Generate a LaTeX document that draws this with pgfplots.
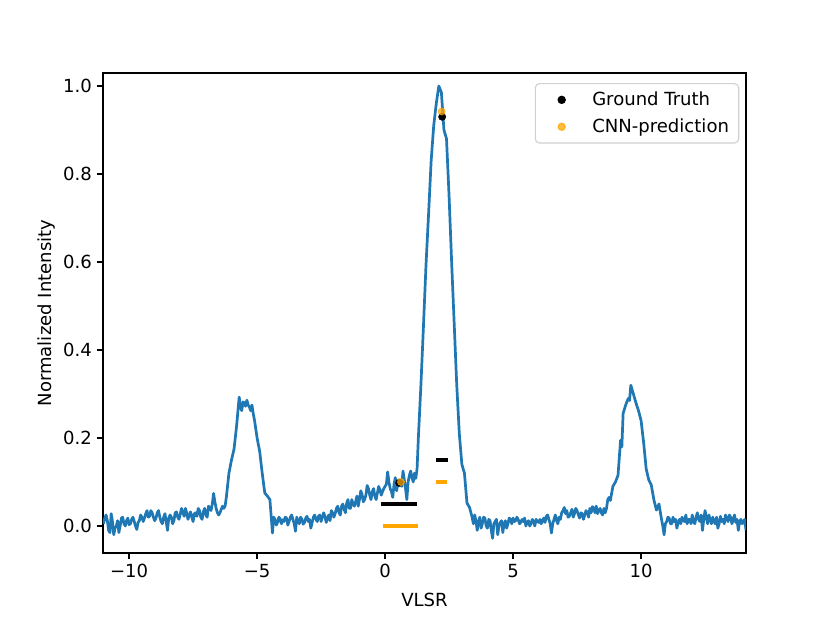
\documentclass[border=0pt]{standalone}
\usepackage{fontspec}
\setmainfont{DejaVu Sans}
\usepackage{pgfplots}
\pgfplotsset{compat=1.18}
\definecolor{tabblue}{HTML}{1F77B4}
\definecolor{orng}{HTML}{FFA500}
\begin{document}
\begin{tikzpicture}
\path[use as bounding box] (-74.16pt,-50.4pt) rectangle (523.44pt,398.16pt);
\begin{axis}[
  at={(0pt,0pt)}, anchor=south west,
  scale only axis, width=462.96pt, height=345.6pt,
  xmin=-11.02, xmax=14.1, ymin=-0.0614, ymax=1.0295,
  xtick={-10,-5,0,5,10}, xticklabels={−10,−5,0,5,10},
  ytick={0,0.2,0.4,0.6,0.8,1.0}, yticklabels={0.0,0.2,0.4,0.6,0.8,1.0},
  tick align=outside, major tick length=4.5pt,
  xtick pos=left, ytick pos=left,
  tick style={black, line width=0.9pt},
  axis line style={line width=0.9pt},
  tick label style={font=\fontsize{13}{15.6}\selectfont},
  label style={font=\fontsize{13}{15.6}\selectfont},
  xlabel={VLSR}, ylabel={Normalized Intensity},
  xlabel style={yshift=-4.5pt},
  ylabel style={yshift=-1pt},
  legend style={at={(0.9895,0.979)}, anchor=north east, draw=black!18, line width=0.8pt, rounded corners=3pt,
    fill=white, font=\fontsize{13}{15.6}\selectfont, row sep=4pt, inner xsep=5pt, inner ysep=4pt,
    /tikz/every odd column/.append style={column sep=4pt}},
  legend image code/.code={\path[draw=none] (0pt,0pt) -- (30pt,0pt); \draw[#1] plot coordinates {(14pt,0pt)};},
  legend cell align=left,
]
\addplot[tabblue, line width=1.95pt, line join=round, forget plot] coordinates {
(-11.0,0.005) (-10.95,0.018) (-10.9,0.025) (-10.85,0.012) (-10.8,-0.010) (-10.75,-0.015)
(-10.7,0.028) (-10.65,0.010) (-10.6,-0.020) (-10.55,-0.005) (-10.5,0.000) (-10.45,0.012)
(-10.4,-0.015) (-10.35,0.000) (-10.3,0.018) (-10.25,0.020) (-10.2,0.005) (-10.15,0.000)
(-10.1,0.012) (-10.05,0.018) (-10.0,0.003) (-9.95,0.005) (-9.9,0.015) (-9.85,0.020)
(-9.8,0.010) (-9.75,0.000) (-9.7,-0.008) (-9.65,0.008) (-9.6,0.012) (-9.55,0.025)
(-9.5,0.020) (-9.45,0.010) (-9.4,0.018) (-9.35,0.028) (-9.3,0.035) (-9.25,0.020)
(-9.2,0.022) (-9.15,0.035) (-9.1,0.030) (-9.05,0.020) (-9.0,0.012) (-8.95,0.018)
(-8.9,0.030) (-8.85,0.035) (-8.8,0.020) (-8.75,0.010) (-8.7,0.005) (-8.65,0.020)
(-8.6,0.028) (-8.55,0.010) (-8.5,-0.010) (-8.45,0.018) (-8.4,0.025) (-8.35,0.020)
(-8.3,0.005) (-8.25,0.012) (-8.2,0.030) (-8.15,0.032) (-8.1,0.020) (-8.05,0.015)
(-8.0,0.028) (-7.95,0.040) (-7.9,0.030) (-7.85,0.022) (-7.8,0.040) (-7.75,0.030)
(-7.7,0.015) (-7.65,0.025) (-7.6,0.032) (-7.55,0.020) (-7.5,0.010) (-7.45,0.028)
(-7.4,0.030) (-7.35,0.022) (-7.3,0.040) (-7.25,0.035) (-7.2,0.020) (-7.15,0.015)
(-7.1,0.032) (-7.05,0.040) (-7.0,0.025) (-6.95,0.020) (-6.9,0.045) (-6.85,0.042)
(-6.8,0.035) (-6.75,0.050) (-6.7,0.074) (-6.65,0.055) (-6.6,0.040) (-6.55,0.030)
(-6.5,0.025) (-6.45,0.030) (-6.4,0.038) (-6.35,0.045) (-6.3,0.040) (-6.25,0.045)
(-6.2,0.066) (-6.1,0.120) (-6.0,0.150) (-5.9,0.175) (-5.8,0.228) (-5.7,0.293)
(-5.65,0.270) (-5.6,0.262) (-5.55,0.282) (-5.5,0.280) (-5.45,0.272) (-5.4,0.286)
(-5.35,0.275) (-5.3,0.270) (-5.25,0.262) (-5.2,0.275) (-5.15,0.255) (-5.1,0.240)
(-5.0,0.200) (-4.9,0.170) (-4.8,0.120) (-4.7,0.075) (-4.6,0.068) (-4.5,0.060)
(-4.4,-0.016) (-4.35,0.020) (-4.3,0.015) (-4.25,0.002) (-4.2,0.008) (-4.15,0.020)
(-4.1,0.016) (-4.05,0.005) (-4.0,0.014) (-3.95,0.010) (-3.9,0.020) (-3.85,0.018)
(-3.8,0.002) (-3.75,0.010) (-3.7,0.020) (-3.65,0.025) (-3.6,0.015) (-3.55,0.005)
(-3.5,-0.012) (-3.45,0.020) (-3.4,0.010) (-3.35,0.005) (-3.3,0.020) (-3.25,0.015)
(-3.2,0.004) (-3.15,0.008) (-3.1,0.018) (-3.05,0.022) (-3.0,0.010) (-2.95,0.015)
(-2.9,-0.005) (-2.85,0.008) (-2.8,0.020) (-2.75,0.025) (-2.7,0.015) (-2.65,0.010)
(-2.6,0.022) (-2.55,0.025) (-2.5,0.010) (-2.45,0.020) (-2.4,0.030) (-2.35,0.022)
(-2.3,0.008) (-2.25,0.018) (-2.2,0.025) (-2.15,0.012) (-2.1,0.035) (-2.05,0.030)
(-2.0,0.020) (-1.95,0.028) (-1.9,0.040) (-1.85,0.045) (-1.8,0.030) (-1.75,0.025)
(-1.7,0.045) (-1.65,0.050) (-1.6,0.038) (-1.55,0.030) (-1.5,0.052) (-1.45,0.060)
(-1.4,0.040) (-1.35,0.040) (-1.3,0.060) (-1.25,0.050) (-1.2,0.045) (-1.15,0.055)
(-1.1,0.068) (-1.05,0.045) (-1.0,0.060) (-0.95,0.080) (-0.9,0.072) (-0.85,0.055)
(-0.8,0.060) (-0.75,0.070) (-0.7,0.092) (-0.65,0.085) (-0.6,0.070) (-0.55,0.060)
(-0.5,0.078) (-0.45,0.085) (-0.4,0.068) (-0.35,0.060) (-0.3,0.075) (-0.25,0.090)
(-0.2,0.082) (-0.15,0.070) (-0.1,0.078) (-0.05,0.085) (0.0,0.090) (0.05,0.095)
(0.1,0.123) (0.15,0.100) (0.2,0.085) (0.25,0.078) (0.3,0.065) (0.35,0.095)
(0.4,0.110) (0.45,0.080) (0.5,0.095) (0.55,0.105) (0.6,0.098) (0.65,0.090)
(0.7,0.125) (0.75,0.105) (0.8,0.085) (0.85,0.060) (0.9,0.100) (0.95,0.115)
(1.0,0.125) (1.05,0.110) (1.1,0.100) (1.15,0.120) (1.2,0.108) (1.25,0.130)
(1.3,0.200) (1.4,0.320) (1.5,0.455) (1.6,0.595) (1.7,0.710) (1.8,0.830)
(1.9,0.910) (2.0,0.960) (2.1,1.000) (2.2,0.985) (2.3,0.900) (2.4,0.880)
(2.5,0.750) (2.6,0.600) (2.7,0.460) (2.8,0.320) (2.9,0.210) (3.0,0.140)
(3.1,0.120) (3.2,0.052) (3.3,0.042) (3.4,0.020) (3.45,0.005) (3.5,0.025)
(3.55,0.012) (3.6,-0.010) (3.65,0.010) (3.7,0.020) (3.75,-0.005) (3.8,0.005)
(3.85,0.020) (3.9,0.018) (3.95,0.000) (4.0,-0.005) (4.05,0.015) (4.1,0.012)
(4.15,-0.010) (4.2,-0.028) (4.25,0.005) (4.3,0.010) (4.35,0.015) (4.4,-0.020)
(4.45,0.000) (4.5,0.008) (4.55,0.012) (4.6,-0.015) (4.65,0.005) (4.7,0.012)
(4.75,-0.005) (4.8,0.005) (4.85,0.018) (4.9,0.015) (4.95,0.005) (5.0,0.018)
(5.05,0.010) (5.1,0.012) (5.15,0.020) (5.2,0.015) (5.25,0.005) (5.3,0.008)
(5.35,0.015) (5.4,0.010) (5.45,0.018) (5.5,0.000) (5.55,0.008) (5.6,0.012)
(5.65,0.000) (5.7,0.005) (5.75,0.015) (5.8,0.010) (5.85,0.000) (5.9,0.015)
(5.95,0.010) (6.0,0.008) (6.05,0.015) (6.1,0.005) (6.15,0.012) (6.2,0.018)
(6.25,0.008) (6.3,0.022) (6.35,0.025) (6.4,0.015) (6.45,0.005) (6.5,-0.016)
(6.55,0.005) (6.6,0.015) (6.65,0.025) (6.7,0.012) (6.75,0.005) (6.8,0.020)
(6.85,0.015) (6.9,0.030) (6.95,0.035) (7.0,0.042) (7.05,0.028) (7.1,0.035)
(7.15,0.020) (7.2,0.022) (7.25,0.030) (7.3,0.038) (7.35,0.020) (7.4,0.028)
(7.45,0.040) (7.5,0.035) (7.55,0.025) (7.6,0.018) (7.65,0.030) (7.7,0.028)
(7.75,0.015) (7.8,0.025) (7.85,0.035) (7.9,0.030) (7.95,0.020) (8.0,0.040)
(8.05,0.030) (8.1,0.044) (8.15,0.040) (8.2,0.030) (8.25,0.045) (8.3,0.028)
(8.35,0.035) (8.4,0.040) (8.45,0.030) (8.5,0.025) (8.55,0.040) (8.6,0.030)
(8.65,0.040) (8.7,0.060) (8.75,0.065) (8.8,0.058) (8.9,0.090) (9.0,0.100)
(9.1,0.115) (9.2,0.195) (9.25,0.180) (9.3,0.256) (9.4,0.275) (9.5,0.290)
(9.55,0.285) (9.6,0.320) (9.7,0.300) (9.8,0.280) (9.9,0.262) (10.0,0.240)
(10.1,0.190) (10.2,0.130) (10.3,0.105) (10.4,0.093) (10.5,0.060) (10.6,0.036)
(10.7,0.050) (10.8,0.015) (10.85,0.000) (10.9,-0.020) (10.95,0.005) (11.0,0.010)
(11.05,0.020) (11.1,0.018) (11.15,0.005) (11.2,0.005) (11.25,0.020) (11.3,0.010)
(11.35,0.015) (11.4,-0.005) (11.45,0.008) (11.5,0.015) (11.55,0.005) (11.6,0.020)
(11.65,0.012) (11.7,0.010) (11.75,0.025) (11.8,0.005) (11.85,0.015) (11.9,0.015)
(11.95,0.005) (12.0,0.025) (12.05,0.010) (12.1,0.005) (12.15,0.020) (12.2,0.030)
(12.25,0.015) (12.3,0.010) (12.35,0.025) (12.4,-0.010) (12.45,0.015) (12.5,0.035)
(12.55,0.020) (12.6,0.005) (12.65,0.025) (12.7,0.015) (12.75,0.005) (12.8,0.020)
(12.85,0.010) (12.9,0.005) (12.95,0.020) (13.0,-0.005) (13.05,0.005) (13.1,0.022)
(13.15,0.010) (13.2,0.015) (13.25,0.005) (13.3,0.025) (13.35,0.015) (13.4,0.010)
(13.45,0.025) (13.5,0.020) (13.55,0.005) (13.6,0.015) (13.65,0.025) (13.7,0.008)
(13.75,0.015) (13.8,-0.010) (13.85,0.010) (13.9,0.015) (13.95,0.005) (14.0,0.010)
(14.05,0.015) (14.1,-0.010)
};
\addplot[black, line width=2.2pt, forget plot] coordinates {(-0.16,0.05) (1.26,0.05)};
\addplot[orng, line width=2.2pt, forget plot] coordinates {(-0.07,0.0) (1.28,0.0)};
\addplot[black, line width=2.2pt, forget plot] coordinates {(1.99,0.15) (2.47,0.15)};
\addplot[orng, line width=2.2pt, forget plot] coordinates {(1.99,0.10) (2.43,0.10)};
\addplot[only marks, mark=*, mark size=2.6pt, color=black, mark options={solid, fill=black}] coordinates {(0.55,0.098) (2.23,0.930)};
\addlegendentry{Ground Truth}
\addplot[only marks, mark=*, mark size=2.6pt, color=orng, opacity=0.75, mark options={solid, draw=orng, fill=orng}] coordinates {(0.62,0.100) (2.21,0.942)};
\addlegendentry{CNN-prediction}
\end{axis}
\end{tikzpicture}
\end{document}
